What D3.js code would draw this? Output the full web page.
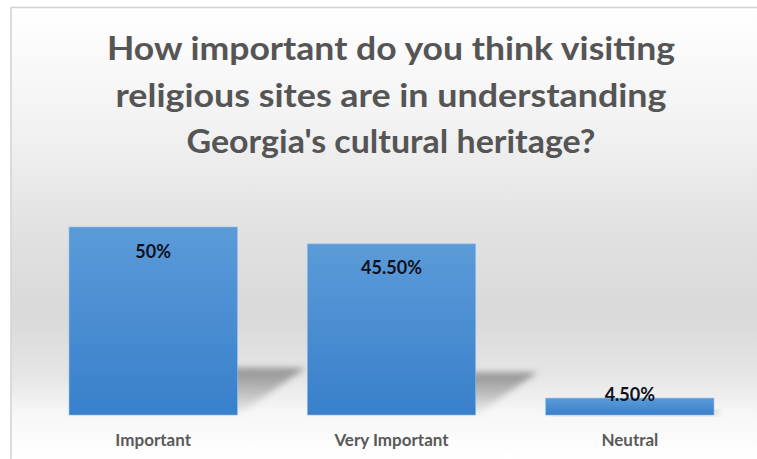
<!DOCTYPE html>
<html>
<head>
<meta charset="utf-8">
<script src="https://cdn.jsdelivr.net/npm/d3@7"></script>
<style>
  html, body { margin: 0; padding: 0; background: #ffffff; }
  svg { display: block; }
</style>
</head>
<body>
<script>
// Survey results
const categories = ["Important", "Very Important", "Neutral"];
const values = [50, 45.5, 4.5];
const valueLabels = ["50%", "45.50%", "4.50%"];
const titleLines = [
  "How important do you think visiting",
  "religious sites are in understanding",
  "Georgia's cultural heritage?"
];

const W = 757, H = 459;
const FONT = "Lato, 'Open Sans', 'DejaVu Sans', sans-serif";

const svg = d3.select("body").append("svg")
  .attr("width", W).attr("height", H);

const defs = svg.append("defs");

// chart area background: white at the top, grey band behind the bars, pale at the bottom
const bg = defs.append("linearGradient").attr("id", "bg")
  .attr("x1", 0).attr("y1", 0).attr("x2", 0).attr("y2", 1);
[[0, "#ffffff"], [0.28, "#f1f1f1"], [0.5, "#e1e1e1"], [0.68, "#d9d9d9"],
 [0.82, "#e6e6e6"], [0.9, "#f7f7f7"], [1, "#ffffff"]]
  .forEach(([o, c]) => bg.append("stop").attr("offset", o).attr("stop-color", c));

// bar fill: lighter blue at the top, deeper blue at the base
const barGrad = defs.append("linearGradient").attr("id", "barGrad")
  .attr("x1", 0).attr("y1", 0).attr("x2", 0).attr("y2", 1);
[[0, "#5a9bd8"], [0.5, "#4a8dd2"], [1, "#3880cb"]]
  .forEach(([o, c]) => barGrad.append("stop").attr("offset", o).attr("stop-color", c));

// perspective shadow fill
const shGrad = defs.append("linearGradient").attr("id", "shGrad")
  .attr("x1", 0).attr("y1", 0).attr("x2", 0).attr("y2", 1);
shGrad.append("stop").attr("offset", 0).attr("stop-color", "#000").attr("stop-opacity", 0.36);
shGrad.append("stop").attr("offset", 0.5).attr("stop-color", "#000").attr("stop-opacity", 0.2);
shGrad.append("stop").attr("offset", 1).attr("stop-color", "#000").attr("stop-opacity", 0.02);

defs.append("filter").attr("id", "blur")
  .attr("x", "-30%").attr("y", "-30%").attr("width", "160%").attr("height", "160%")
  .append("feGaussianBlur").attr("stdDeviation", 3);

// chart area
svg.append("rect")
  .attr("x", 11).attr("y", 7.5).attr("width", W - 11).attr("height", H - 7.5)
  .attr("fill", "url(#bg)");
svg.append("path")
  .attr("d", `M11,${H} V7.5 H${W}`)
  .attr("fill", "none").attr("stroke", "#d2d2d2").attr("stroke-width", 1.5);

// title
svg.append("g").selectAll("text").data(titleLines).join("text")
  .attr("x", 391)
  .attr("y", (d, i) => 60 + i * 46.5)
  .attr("text-anchor", "middle")
  .attr("font-family", FONT)
  .attr("font-weight", 700)
  .attr("font-size", 32)
  .attr("fill", "#555555")
  .attr("textLength", (d, i) => [568, 551, 409][i])
  .attr("lengthAdjust", "spacingAndGlyphs")
  .text(d => d);

// scales
const x = d3.scaleBand()
  .domain(categories)
  .range([34, 749])
  .paddingInner(0.294)
  .paddingOuter(0.147);

const y = d3.scaleLinear()
  .domain([0, 60])
  .range([415, 189.4]);

const rows = categories.map((c, i) => ({ c, v: values[i], label: valueLabels[i] }));

// shadows cast behind each bar
svg.append("g").selectAll("path").data(rows).join("path")
  .attr("d", d => {
    const x0 = x(d.c), x1 = x0 + x.bandwidth();
    const base = y(0);
    const sh = (base - y(d.v)) * 0.25;
    const dx = sh * 1.45;
    return `M${x0},${base} L${x1},${base} L${x1 + dx},${base - sh} L${x0 + dx},${base - sh} Z`;
  })
  .attr("fill", "url(#shGrad)")
  .attr("filter", "url(#blur)");

// bars
svg.append("g").selectAll("rect").data(rows).join("rect")
  .attr("x", d => x(d.c))
  .attr("y", d => y(d.v))
  .attr("width", x.bandwidth())
  .attr("height", d => y(0) - y(d.v))
  .attr("fill", "url(#barGrad)")
  .attr("stroke", "#8dbbe6")
  .attr("stroke-width", 0.6);

// value labels at the inside end of each bar
svg.append("g").selectAll("text").data(rows).join("text")
  .attr("x", d => x(d.c) + x.bandwidth() / 2)
  .attr("y", d => Math.min(y(d.v) + 30.5, y(0) - 14))
  .attr("text-anchor", "middle")
  .attr("font-family", FONT)
  .attr("font-weight", 700)
  .attr("font-size", 18)
  .attr("fill", "#10101c")
  .text(d => d.label);

// category axis
const xAxis = svg.append("g")
  .attr("transform", `translate(0,${y(0)})`)
  .call(d3.axisBottom(x).tickSize(0).tickPadding(31));
xAxis.select(".domain").remove();
xAxis.selectAll("text")
  .attr("font-family", FONT)
  .attr("font-weight", 700)
  .attr("font-size", 17)
  .attr("fill", "#595959")
  .attr("dy", 0);
</script>
</body>
</html>
